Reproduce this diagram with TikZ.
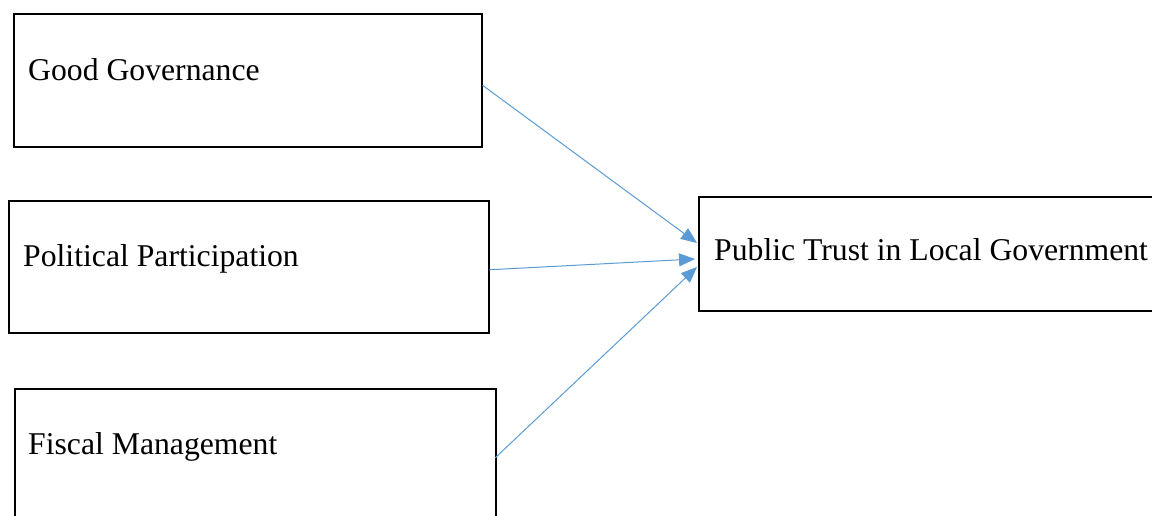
\documentclass[tikz,border=0pt]{standalone}
\usepackage{fontspec}
\setmainfont{Liberation Serif}
\usetikzlibrary{arrows.meta}
\definecolor{arrowblue}{HTML}{5B9BD5}
\tikzset{
  boxshape/.style={draw=black, line width=1.5pt, rectangle, inner sep=0pt, anchor=north west},
  boxlabel/.style={inner sep=0pt, anchor=base west, font=\fontsize{31.7}{38}\selectfont},
  link/.style={draw=arrowblue, line width=1pt, -{Triangle[length=16pt, width=13pt]}}
}
\begin{document}
\begin{tikzpicture}[x=1pt,y=-1pt]
\useasboundingbox (0,0) rectangle (1152,515);
\clip (0,0) rectangle (1152,515);
\node[boxshape, minimum width=468pt, minimum height=133pt] (gg) at (13,13) {};
\node[boxshape, minimum width=480pt, minimum height=132pt] (pp) at (8,200) {};
\node[boxshape, minimum width=481pt, minimum height=140pt] (fm) at (14,388) {};
\node[boxshape, minimum width=470pt, minimum height=114pt] (pt) at (698,196) {};
\node[boxlabel] (ggt) at (28,80) {Good Governance};
\node[boxlabel] (ppt) at (23,266) {Political Participation};
\node[boxlabel] (fmt) at (28,454) {Fiscal Management};
\node[boxlabel] (ptt) at (714,260) {Public Trust in Local Government};
\coordinate (s1) at ([yshift=-5pt]gg.east);
\coordinate (s2) at ([yshift=-3pt]pp.east);
\coordinate (s3) at (495,458);
\coordinate (e1) at (697,243);
\coordinate (e2) at (695,259);
\coordinate (e3) at (697,267);
\draw[link] (s1) -- (e1);
\draw[link] (s2) -- (e2);
\draw[link] (s3) -- (e3);
\end{tikzpicture}
\end{document}
